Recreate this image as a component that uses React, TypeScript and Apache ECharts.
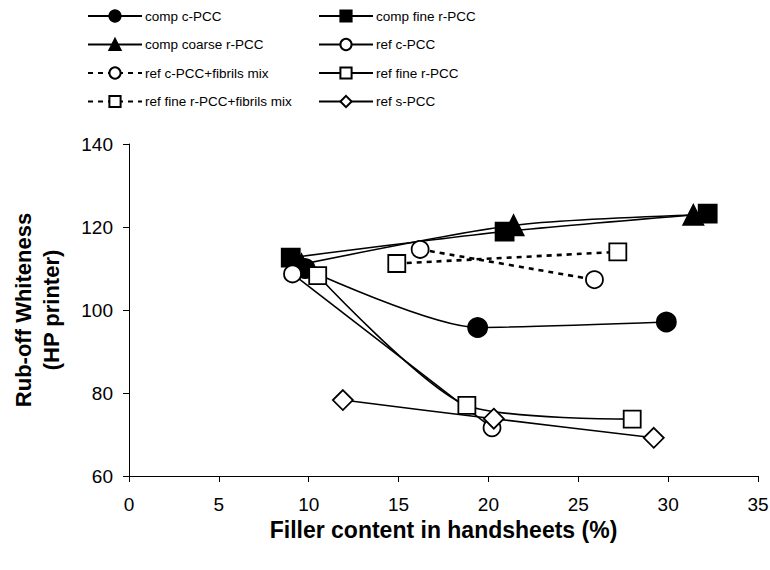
import React, { useEffect, useRef } from "react";
import * as echarts from "echarts";

const seriesNames = [
  "comp c-PCC",
  "comp fine r-PCC",
  "comp coarse r-PCC",
  "ref c-PCC",
  "ref c-PCC+fibrils mix",
  "ref fine r-PCC",
  "ref fine r-PCC+fibrils mix",
  "ref s-PCC",
];

const compCPCC = [[9.8, 110.0], [19.4, 95.8], [29.9, 97.1]];
const compFineRPCC = [[9.0, 112.6], [20.9, 118.9], [32.2, 123.2]];
const compCoarseRPCC = [[9.6, 111.0], [21.4, 120.4], [31.4, 122.9]];
const refCPCC = [[9.1, 108.7], [20.2, 71.6]];
const refCPCCFibrils = [[16.2, 114.6], [25.9, 107.3]];
const refFineRPCC = [[10.5, 108.3], [18.8, 77.0], [28.0, 73.7]];
const refFineRPCCFibrils = [[14.9, 111.2], [27.2, 114.0]];
const refSPCC = [[11.9, 78.3], [20.3, 73.8], [29.2, 69.2]];

const legendLeft = [seriesNames[0], seriesNames[2], seriesNames[4], seriesNames[6]];
const legendRight = [seriesNames[1], seriesNames[3], seriesNames[5], seriesNames[7]];

const FONT = "'Liberation Sans', Arial, Helvetica, sans-serif";

function mk(name: string, data: number[][], symbol: string, filled: boolean, size: number, dashed: boolean) {
  return {
    name,
    type: "line",
    data,
    smooth: 0.25,
    symbol,
    symbolSize: size,
    showSymbol: true,
    lineStyle: {
      color: "#000",
      width: dashed ? 2.6 : 1.6,
      type: dashed ? [5, 5] : "solid",
    },
    itemStyle: {
      color: filled ? "#000" : "#fff",
      borderColor: "#000",
      borderWidth: 1.8,
      opacity: 1,
    },
    emphasis: { disabled: true },
  };
}

export default function App() {
  const ref = useRef<HTMLDivElement>(null);
  useEffect(() => {
    if (!ref.current) return;
    const chart = echarts.init(ref.current, undefined, { renderer: "svg" });
    const legendCommon = {
      orient: "vertical",
      top: 9,
      padding: 0,
      itemWidth: 54,
      itemHeight: 14,
      itemGap: 14.5,
      textStyle: { fontFamily: FONT, fontSize: 13.5, color: "#000", padding: [0, 0, 0, -2] },
      selectedMode: false,
    };
    chart.setOption({
      animation: false,
      backgroundColor: "#fff",
      textStyle: { fontFamily: FONT },
      legend: [
        { ...legendCommon, left: 87, data: legendLeft },
        { ...legendCommon, left: 318, data: legendRight },
      ],
      grid: { left: 129, right: 12, top: 144, bottom: 94, containLabel: false, outerBoundsMode: "none" },
      xAxis: {
        type: "value",
        min: 0,
        max: 35,
        interval: 5,
        name: "Filler content in handsheets (%)",
        nameLocation: "middle",
        nameGap: 28,
        nameTextStyle: { fontFamily: FONT, fontSize: 23, fontWeight: "bold", color: "#000" },
        axisLine: { show: true, onZero: false, lineStyle: { color: "#000", width: 1 } },
        axisTick: { show: true, inside: false, length: 6, lineStyle: { color: "#000" } },
        axisLabel: { fontFamily: FONT, fontSize: 19, color: "#000", margin: 19 },
        splitLine: { show: false },
      },
      yAxis: {
        type: "value",
        min: 60,
        max: 140,
        interval: 20,
        name: "Rub-off Whiteness\n(HP printer)",
        nameLocation: "middle",
        nameGap: 64,
        nameRotate: 90,
        nameTextStyle: { fontFamily: FONT, fontSize: 22, fontWeight: "bold", color: "#000", lineHeight: 28 },
        axisLine: { show: true, lineStyle: { color: "#000", width: 1 } },
        axisTick: { show: true, inside: false, length: 6, lineStyle: { color: "#000" } },
        axisLabel: { fontFamily: FONT, fontSize: 19, color: "#000", margin: 16 },
        splitLine: { show: false },
      },
      series: [
        mk(seriesNames[0], compCPCC, "circle", true, 19, false),
        mk(seriesNames[1], compFineRPCC, "rect", true, 18, false),
        mk(seriesNames[2], compCoarseRPCC, "triangle", true, 20, false),
        mk(seriesNames[3], refCPCC, "circle", false, 17, false),
        mk(seriesNames[4], refCPCCFibrils, "circle", false, 17, true),
        mk(seriesNames[5], refFineRPCC, "rect", false, 17, false),
        mk(seriesNames[6], refFineRPCCFibrils, "rect", false, 17, true),
        mk(seriesNames[7], refSPCC, "diamond", false, 20, false),
      ],
    });
    return () => chart.dispose();
  }, []);
  return (
    <div
      ref={ref}
      style={{ position: "fixed", left: 0, top: 0, width: 770, height: 570, background: "#fff" }}
    />
  );
}
